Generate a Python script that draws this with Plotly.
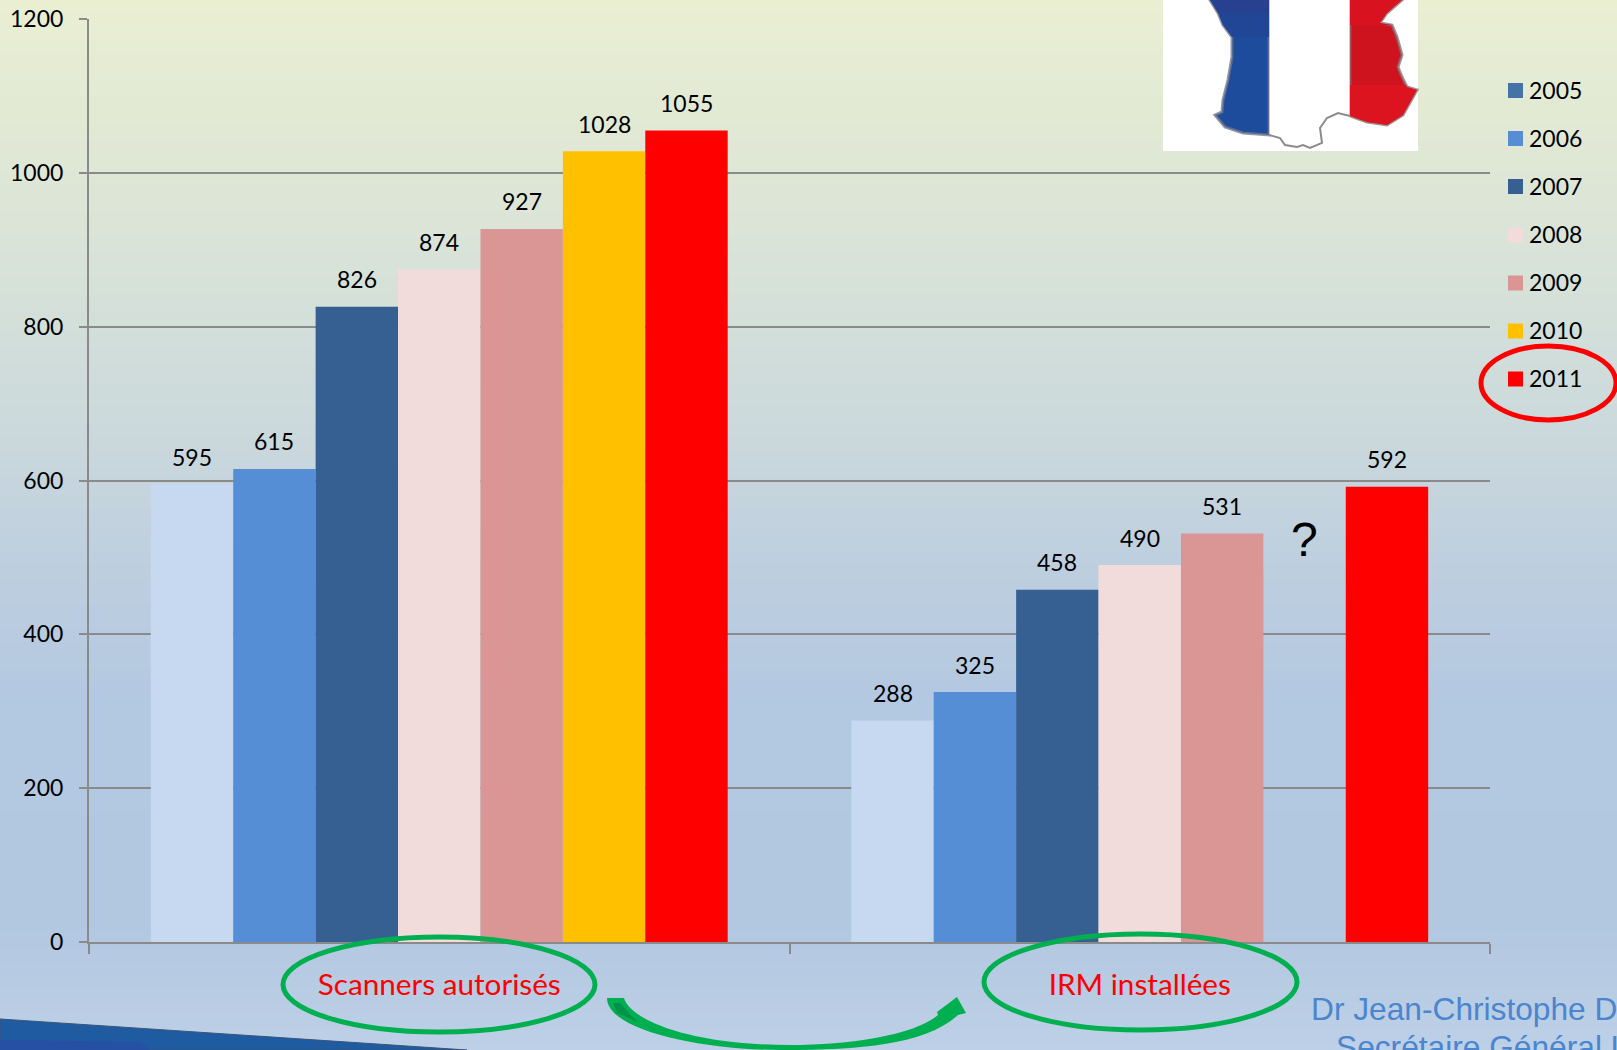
import plotly.graph_objects as go

# ---- data ----
categories = ["Scanners autorisés", "IRM installées"]
years = ["2005", "2006", "2007", "2008", "2009", "2010", "2011"]
scanners = [595, 615, 826, 874, 927, 1028, 1055]
irm = [288, 325, 458, 490, 531, None, 592]
bar_colors = ["#C6D9F1", "#558ED5", "#376092", "#F2DCDB", "#D99694", "#FFC000", "#FF0000"]
legend_colors = ["#4572A7", "#558ED5", "#376092", "#F2DCDB", "#D99694", "#FFC000", "#FF0000"]
y_ticks = [0, 200, 400, 600, 800, 1000, 1200]

# ---- page geometry (pixels) ----
W, H = 1617, 1050
L, R, T, B = 89, 1490, 19, 942
BARGAP = 1.5 / 8.5
AXIS_GREY = "#8A8A8A"
GREEN = "#00B050"
FONT = "Lato"


def px(x):
    return (x - L) / (R - L)


def py(y):
    return 1 - (y - T) / (B - T)


def poly(points, fill, line=None, width=0, layer="above"):
    path = "M " + " L ".join(f"{px(x):.5f},{py(y):.5f}" for x, y in points) + " Z"
    return dict(type="path", xref="paper", yref="paper", path=path, fillcolor=fill,
                line=dict(color=line or fill, width=width), layer=layer)


def rect(x0, y0, x1, y1, fill, layer="above"):
    return dict(type="rect", xref="paper", yref="paper", x0=px(x0), x1=px(x1), y0=py(y0), y1=py(y1),
                fillcolor=fill, line=dict(width=0), layer=layer)


def ellipse(x0, y0, x1, y1, color, width):
    return dict(type="circle", xref="paper", yref="paper", x0=px(x0), x1=px(x1), y0=py(y0), y1=py(y1),
                fillcolor="rgba(0,0,0,0)", line=dict(color=color, width=width), layer="above")


def hex_rgb(c):
    return [int(c[i:i + 2], 16) for i in (1, 3, 5)]


# ---- slide background: vertical colour ramp ----
ramp = [(0, "#EAEFD2"), (190, "#DDE6D6"), (430, "#CBD9DC"), (570, "#BDCEDF"),
        (700, "#B3C8E1"), (920, "#B2C7E0"), (1050, "#BDD0E7")]
shapes = []
for yy in range(0, H, 3):
    for (a, ca), (b, cb) in zip(ramp, ramp[1:]):
        if a <= yy <= b:
            t = (yy - a) / (b - a)
            rgb = [round(u + (v - u) * t) for u, v in zip(hex_rgb(ca), hex_rgb(cb))]
            break
    shapes.append(rect(0, yy, W, H, f"rgb({rgb[0]},{rgb[1]},{rgb[2]})", layer="below"))

# corner of the slide's blue band
shapes.append(poly([(0, 1019), (467, 1050), (0, 1050)], "#1F5BA0", "#3C5578", 1, layer="below"))
shapes.append(poly([(0, 1040), (140, 1042), (150, 1050), (0, 1050)], "#2650A3", layer="below"))

# ---- map of France in the national colours ----
shapes.append(rect(1163, 0, 1418, 151, "#FFFFFF"))
blue_part = [(1210, 0), (1218, 13), (1223, 25), (1232, 37), (1232, 57), (1228, 80), (1223, 100), (1222, 112),
             (1215, 115), (1225, 127), (1243, 133), (1269, 135), (1269, 0)]
red_part = [(1350, 0), (1350, 116), (1367, 122), (1387, 125), (1403, 115), (1417, 90), (1407, 87), (1402, 77),
            (1398, 67), (1402, 55), (1397, 37), (1392, 25), (1380, 23), (1387, 13), (1402, 0)]
south_border = [(1269, 135), (1280, 138), (1285, 145), (1297, 147), (1303, 145), (1310, 148), (1322, 143),
                (1320, 128), (1327, 118), (1338, 113), (1350, 116)]
shapes.append(poly(blue_part, "#1D4C9C", "rgba(110,115,140,0.75)", 3))
shapes.append(poly(red_part, "#CE121E", "rgba(130,110,115,0.75)", 3))
# shading inside the two coloured stripes
shapes.append(poly([(1210, 0), (1218, 13), (1269, 13), (1269, 0)], "#27408F"))
shapes.append(poly([(1218, 13), (1223, 25), (1232, 37), (1269, 37), (1269, 13)], "#224696"))
shapes.append(poly([(1350, 0), (1350, 25), (1392, 25), (1380, 23), (1387, 13), (1402, 0)], "#D9121F"))
shapes.append(poly([(1350, 85), (1350, 116), (1367, 122), (1387, 125), (1403, 115), (1417, 90), (1407, 87),
                    (1406, 85)], "#DB141F"))
# white strip between them hides the outline of the straight inner edges
shapes.append(rect(1269.5, 0, 1349.5, 134, "#FFFFFF"))
shapes.append(dict(type="path", xref="paper", yref="paper",
                   path="M " + " L ".join(f"{px(x):.5f},{py(y):.5f}" for x, y in south_border),
                   line=dict(color="#8C8C8C", width=2), layer="above"))

# ---- highlights ----
shapes.append(ellipse(283, 937, 595, 1032, GREEN, 5))
shapes.append(ellipse(984, 934, 1297, 1030, GREEN, 5))
shapes.append(ellipse(1481, 346, 1616, 420, "#FF0000", 5))


def curve(*cmds):
    out = []
    for c in cmds:
        out.append(c[0] + " " + " ".join(f"{px(c[i]):.5f},{py(c[i + 1]):.5f}" for i in range(1, len(c), 2)))
    return " ".join(out) + " Z"


arrow = curve(("M", 607, 998), ("L", 624, 998), ("C", 630, 1020, 690, 1045, 790, 1045),
              ("C", 850, 1045, 915, 1035, 938, 1015), ("L", 937, 1012), ("L", 957, 997), ("L", 966, 1013),
              ("L", 958, 1015), ("C", 925, 1045, 860, 1050, 783, 1050), ("C", 700, 1050, 607, 1030, 607, 998))
shapes.append(dict(type="path", xref="paper", yref="paper", path=arrow, fillcolor=GREEN,
                   line=dict(width=0), layer="above"))
shapes.append(poly([(613, 1003), (620, 1003), (637, 1022), (617, 1013)], "#00924A"))

# ---- legend column ----
annotations = []
legend_y = [90.5, 138.5, 186.5, 235, 283, 331, 379]
for year, color, yc in zip(years, legend_colors, legend_y):
    shapes.append(rect(1508, yc - 7.5, 1523, yc + 7.5, color))
    annotations.append(dict(xref="paper", yref="paper", x=px(1527), y=py(yc - 1), text=year, showarrow=False,
                            xanchor="left", yanchor="middle", font=dict(family=FONT, size=23, color="#000000")))

# ---- bars ----
fig = go.Figure()
slot = (1 - BARGAP) / len(years)
for j, (year, color) in enumerate(zip(years, bar_colors)):
    vals = [scanners[j], irm[j]]
    fig.add_trace(go.Bar(name=year, x=categories, y=vals, marker=dict(color=color, line=dict(width=0)),
                         showlegend=False))
    for i, v in enumerate(vals):
        if v is not None:
            annotations.append(dict(x=i + (j - 3) * slot, y=v, xref="x", yref="y", text=str(v), showarrow=False,
                                    yanchor="middle", xanchor="center", yshift=27.5,
                                    font=dict(family=FONT, size=23, color="#000000")))

# ---- free text ----
annotations.append(dict(xref="paper", yref="paper", x=px(1304), y=py(539), text="?", showarrow=False,
                        xanchor="center", yanchor="middle",
                        font=dict(family="Liberation Sans", size=48, color="#000000")))
sig = dict(family="Liberation Sans", size=31.7, color="#4A85CE")
annotations.append(dict(xref="paper", yref="paper", x=px(1309), y=py(1009), text="Dr Jean-Christophe D",
                        showarrow=False, xanchor="left", yanchor="middle", font=sig))
annotations.append(dict(xref="paper", yref="paper", x=px(1334), y=py(1047), text="Secrétaire Général U",
                        showarrow=False, xanchor="left", yanchor="middle", font=sig))

fig.update_layout(
    width=W, height=H, autosize=False,
    margin=dict(l=L, r=W - R, t=T, b=H - B, pad=0),
    barmode="group", bargap=BARGAP, bargroupgap=0,
    paper_bgcolor="#B3C8E1", plot_bgcolor="rgba(0,0,0,0)",
    shapes=shapes, annotations=annotations, showlegend=False,
    xaxis=dict(type="category", categoryorder="array", categoryarray=categories, automargin=False,
               showline=True, linecolor=AXIS_GREY, linewidth=2, showgrid=False, zeroline=False,
               ticks="outside", ticklen=10, tickwidth=2, tickcolor=AXIS_GREY, tickson="boundaries",
               ticklabelstandoff=15, tickfont=dict(family=FONT, size=29.7, color="#FF0000")),
    yaxis=dict(range=[0, 1200], tickmode="array", tickvals=y_ticks, ticktext=[str(v) for v in y_ticks],
               automargin=False,
               showline=True, linecolor=AXIS_GREY, linewidth=2, showgrid=True, gridcolor=AXIS_GREY, gridwidth=2,
               zeroline=False, ticks="outside", ticklen=8, tickwidth=2, tickcolor=AXIS_GREY,
               ticklabelstandoff=11, tickfont=dict(family=FONT, size=23, color="#000000")),
)

fig.write_html("out.html", config=dict(displayModeBar=False))
